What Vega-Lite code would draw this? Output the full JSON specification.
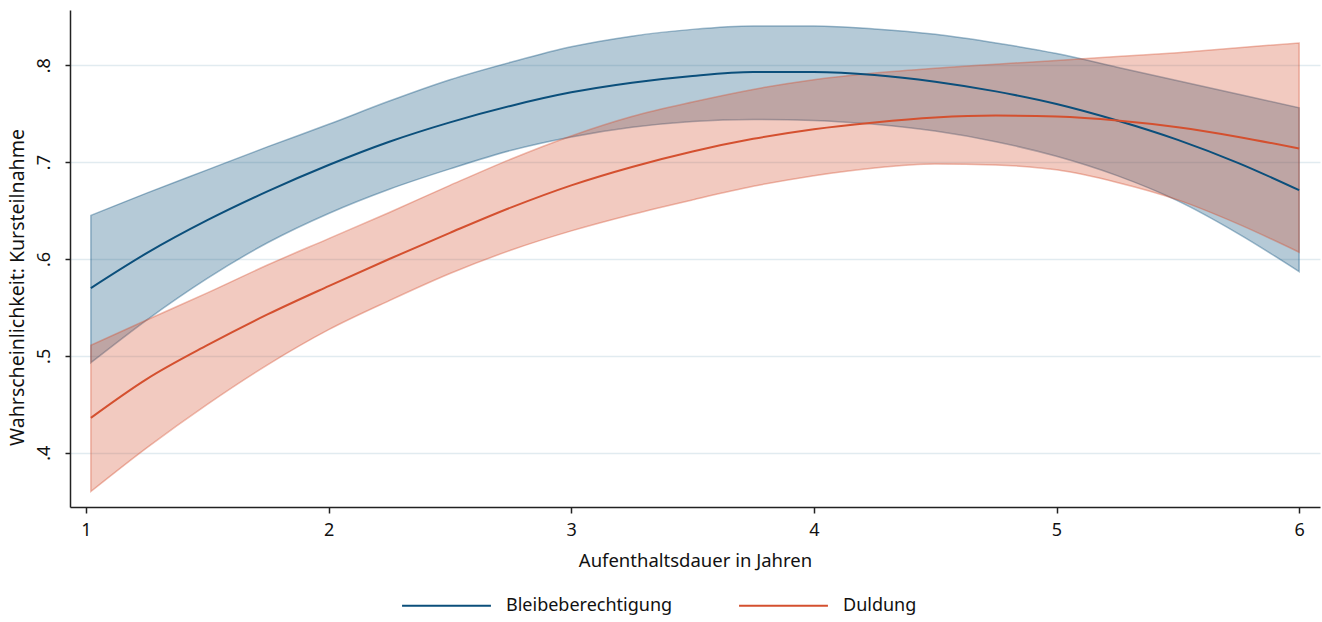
{
  "$schema": "https://vega.github.io/schema/vega-lite/v6.json",
  "width": 1250,
  "height": 497,
  "autosize": {"type": "none"},
  "padding": {"left": 70, "top": 10, "right": 2, "bottom": 115},
  "background": "white",
  "config": {
    "font": "Noto Sans",
    "view": {"stroke": null},
    "axis": {"labelFont": "Noto Sans", "titleFont": "Noto Sans", "labelColor": "#111", "titleColor": "#111", "titleFontWeight": "normal", "labelFontSize": 18, "titleFontSize": 18.5, "domainColor": "#222", "domainWidth": 1.5, "tickColor": "#222", "tickWidth": 1.5},
    "legend": {"labelFont": "Noto Sans", "labelFontSize": 18, "labelColor": "#111", "labelLimit": 0}
  },
  "data": {"values": [
    {"x": 1.02, "g": "Bleibeberechtigung", "est": 0.570, "lo": 0.493, "hi": 0.645},
    {"x": 1.25, "g": "Bleibeberechtigung", "est": 0.606, "lo": 0.537, "hi": 0.668},
    {"x": 1.5, "g": "Bleibeberechtigung", "est": 0.640, "lo": 0.580, "hi": 0.692},
    {"x": 1.75, "g": "Bleibeberechtigung", "est": 0.670, "lo": 0.617, "hi": 0.716},
    {"x": 2.0, "g": "Bleibeberechtigung", "est": 0.697, "lo": 0.647, "hi": 0.739},
    {"x": 2.25, "g": "Bleibeberechtigung", "est": 0.721, "lo": 0.672, "hi": 0.763},
    {"x": 2.5, "g": "Bleibeberechtigung", "est": 0.741, "lo": 0.693, "hi": 0.785},
    {"x": 2.75, "g": "Bleibeberechtigung", "est": 0.758, "lo": 0.712, "hi": 0.803},
    {"x": 3.0, "g": "Bleibeberechtigung", "est": 0.772, "lo": 0.726, "hi": 0.819},
    {"x": 3.25, "g": "Bleibeberechtigung", "est": 0.782, "lo": 0.736, "hi": 0.830},
    {"x": 3.5, "g": "Bleibeberechtigung", "est": 0.789, "lo": 0.742, "hi": 0.837},
    {"x": 3.75, "g": "Bleibeberechtigung", "est": 0.793, "lo": 0.744, "hi": 0.8405},
    {"x": 4.0, "g": "Bleibeberechtigung", "est": 0.793, "lo": 0.743, "hi": 0.8405},
    {"x": 4.25, "g": "Bleibeberechtigung", "est": 0.790, "lo": 0.739, "hi": 0.8375},
    {"x": 4.5, "g": "Bleibeberechtigung", "est": 0.783, "lo": 0.732, "hi": 0.832},
    {"x": 4.75, "g": "Bleibeberechtigung", "est": 0.773, "lo": 0.721, "hi": 0.823},
    {"x": 5.0, "g": "Bleibeberechtigung", "est": 0.760, "lo": 0.706, "hi": 0.812},
    {"x": 5.25, "g": "Bleibeberechtigung", "est": 0.743, "lo": 0.686, "hi": 0.798},
    {"x": 5.5, "g": "Bleibeberechtigung", "est": 0.723, "lo": 0.660, "hi": 0.784},
    {"x": 5.75, "g": "Bleibeberechtigung", "est": 0.699, "lo": 0.626, "hi": 0.770},
    {"x": 6.0, "g": "Bleibeberechtigung", "est": 0.671, "lo": 0.587, "hi": 0.756},
    {"x": 1.02, "g": "Duldung", "est": 0.436, "lo": 0.360, "hi": 0.511},
    {"x": 1.25, "g": "Duldung", "est": 0.476, "lo": 0.405, "hi": 0.537},
    {"x": 1.5, "g": "Duldung", "est": 0.511, "lo": 0.450, "hi": 0.565},
    {"x": 1.75, "g": "Duldung", "est": 0.543, "lo": 0.491, "hi": 0.594},
    {"x": 2.0, "g": "Duldung", "est": 0.572, "lo": 0.527, "hi": 0.621},
    {"x": 2.25, "g": "Duldung", "est": 0.600, "lo": 0.557, "hi": 0.648},
    {"x": 2.5, "g": "Duldung", "est": 0.627, "lo": 0.585, "hi": 0.676},
    {"x": 2.75, "g": "Duldung", "est": 0.653, "lo": 0.609, "hi": 0.703},
    {"x": 3.0, "g": "Duldung", "est": 0.676, "lo": 0.629, "hi": 0.727},
    {"x": 3.25, "g": "Duldung", "est": 0.695, "lo": 0.646, "hi": 0.747},
    {"x": 3.5, "g": "Duldung", "est": 0.711, "lo": 0.661, "hi": 0.762},
    {"x": 3.75, "g": "Duldung", "est": 0.724, "lo": 0.675, "hi": 0.775},
    {"x": 4.0, "g": "Duldung", "est": 0.734, "lo": 0.686, "hi": 0.785},
    {"x": 4.25, "g": "Duldung", "est": 0.741, "lo": 0.694, "hi": 0.792},
    {"x": 4.5, "g": "Duldung", "est": 0.746, "lo": 0.698, "hi": 0.797},
    {"x": 4.75, "g": "Duldung", "est": 0.748, "lo": 0.697, "hi": 0.801},
    {"x": 5.0, "g": "Duldung", "est": 0.747, "lo": 0.692, "hi": 0.805},
    {"x": 5.25, "g": "Duldung", "est": 0.743, "lo": 0.679, "hi": 0.809},
    {"x": 5.5, "g": "Duldung", "est": 0.736, "lo": 0.661, "hi": 0.813},
    {"x": 5.75, "g": "Duldung", "est": 0.726, "lo": 0.636, "hi": 0.818},
    {"x": 6.0, "g": "Duldung", "est": 0.714, "lo": 0.607, "hi": 0.823}
  ]},
  "encoding": {
    "x": {"field": "x", "type": "quantitative", "scale": {"domain": [0.934, 6.086], "nice": false, "zero": false},
      "axis": {"title": "Aufenthaltsdauer in Jahren", "values": [1, 2, 3, 4, 5, 6], "grid": false, "tickSize": 6, "labelPadding": 8, "titlePadding": 12, "labelFlush": false}}
  },
  "layer": [
    {
      "mark": {"type": "area", "interpolate": "monotone", "fillOpacity": 0.3, "strokeOpacity": 0.38, "strokeWidth": 1.5},
      "encoding": {
        "y": {"field": "lo", "type": "quantitative", "scale": {"domain": [0.344, 0.857], "nice": false, "zero": false},
          "axis": {"title": "Wahrscheinlichkeit: Kursteilnahme", "titleFontSize": 19.5, "titleY": 277, "values": [0.4, 0.5, 0.6, 0.7, 0.8], "grid": true, "gridColor": "#e1ebf0", "gridWidth": 1.5, "tickSize": 5, "labelAngle": -90, "labelAlign": "center", "labelBaseline": "bottom", "labelPadding": 12, "titlePadding": 8, "labelExpr": "substring(format(datum.value, '.1f'), 1)"}},
        "y2": {"field": "hi"},
        "fill": {"field": "g", "type": "nominal", "scale": {"domain": ["Bleibeberechtigung", "Duldung"], "range": ["#0b4f7b", "#d4502f"]}, "legend": null},
        "stroke": {"field": "g", "type": "nominal", "scale": {"domain": ["Bleibeberechtigung", "Duldung"], "range": ["#0b4f7b", "#d4502f"]}, "legend": null},
        "order": {"field": "g"}
      }
    },
    {
      "mark": {"type": "line", "interpolate": "monotone", "strokeWidth": 2},
      "encoding": {
        "y": {"field": "est", "type": "quantitative"},
        "color": {"field": "g", "type": "nominal", "scale": {"domain": ["Bleibeberechtigung", "Duldung"], "range": ["#0b4f7b", "#d4502f"]},
          "legend": {"title": null, "orient": "none", "direction": "horizontal", "legendX": 331, "legendY": 550, "symbolType": "stroke", "symbolSize": 7900, "symbolStrokeWidth": 2, "columnPadding": 62, "labelOffset": 14, "labelLimit": 0}}
      }
    }
  ],
  "resolve": {"scale": {"fill": "independent", "stroke": "independent", "color": "independent"}}
}
